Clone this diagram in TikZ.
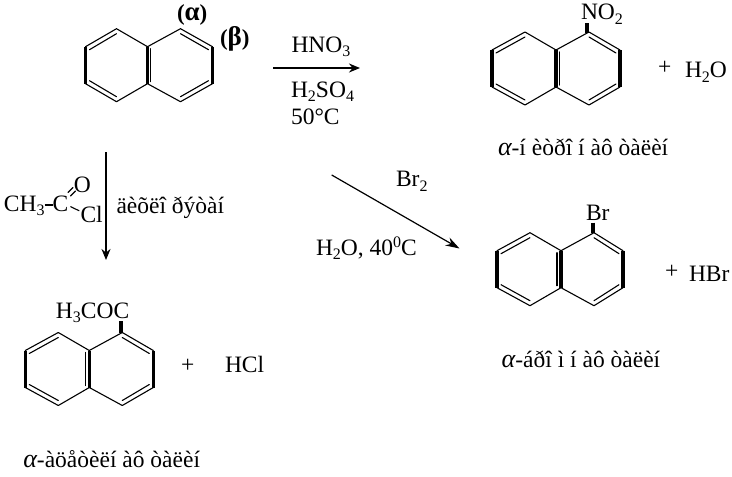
\documentclass[tikz,border=0pt]{standalone}
\usepackage{fontspec}
\setmainfont{Liberation Serif}
\usetikzlibrary{arrows.meta}
\newcommand\sbs[1]{\raisebox{-4.5pt}{\fontsize{16}{16}\selectfont #1}}
\newcommand\sps[1]{\raisebox{8pt}{\fontsize{16}{16}\selectfont #1}}
\newcommand\alf{{\fontsize{26}{26}\selectfont\itshape α}}
\newcommand\grk[1]{{\fontsize{27}{27}\selectfont #1}}
\tikzset{
  txt/.style={anchor=base west,inner sep=0pt,outer sep=0pt,font=\fontsize{23.5}{23.5}\selectfont},
  gr/.style={anchor=base west,inner sep=0pt,outer sep=0pt,font=\fontsize{23}{23}\selectfont\bfseries},
  thin bond/.style={line width=1.1pt,line cap=round,line join=round},
  bold bond/.style={line width=3.5pt},
  rarrow/.style={line width=2.3pt,-{Stealth[length=11pt,width=9pt]}},
  darrow/.style={line width=1.2pt,-{Stealth[length=14pt,width=9pt]}}
}
% #1 x, #2 y of top of the central bond, #3 offset of its thin partner, #4 left width, #5 right width
\newcommand\naph[5]{%
\begin{scope}[shift={(#1,#2)}]
 \draw[thin bond] (-#4,0) -- (-31,-18) -- (0,0) -- (33,-18) -- (#5,0);
 \draw[thin bond] (-#4,37) -- (-31,55) -- (0,37) -- (33,55) -- (#5,37);
 \draw[thin bond] (-#4+4,3) -- (-31,-13);
 \draw[thin bond] (-#4+4,34) -- (-31,50);
 \draw[thin bond] (33,-13) -- (#5-4,3);
 \draw[thin bond] (33,50) -- (#5-4,34);
 \draw[bold bond] (-#4,0) -- (-#4,37);
 \draw[bold bond] (#5,0) -- (#5,37);
 \draw[bold bond] (0,0) -- (0,37);
 \draw[thin bond] (#3,2) -- (#3,35);
\end{scope}}
\begin{document}
\begin{tikzpicture}[x=1pt,y=-1pt]
\useasboundingbox (0,0) rectangle (732,477);
% naphthalene
\naph{147.5}{46.7}{3}{62}{65}
\node[gr] (alpha) at (177,20) {(\grk{α})};
\node[gr] (beta) at (220,45) {(\grk{β})};
% nitration
\node[txt] (hno) at (291.5,52) {HNO\sbs{3}};
\node[txt] (hso) at (291,97) {H\sbs{2}SO\sbs{4}};
\node[txt] (temp) at (291,124) {50°C};
\coordinate (a1s) at (273,68);
\coordinate (a1e) at (360,68);
\draw[rarrow] (a1s) -- (a1e);
\naph{556}{50}{3.5}{64}{64}
\node[txt] (no2) at (581,19.5) {NO\sbs{2}};
\draw[bold bond] (587,23) -- (587,32.5);
\node[txt] (plus1) at (658,74) {+};
\node[txt] (water) at (685,77.5) {H\sbs{2}O};
\node[txt] (nname) at (498,155.7) {\alf-í èòðî í àô òàëèí};
% acylation
\node[txt] (ch3c) at (4,211) {CH\sbs{3}};
\node[txt] (carb) at (52.5,211) {C};
\node[txt] (oxy) at (74,192) {O};
\node[txt] (chl) at (80.5,222.7) {Cl};
\draw[line width=2.5pt] (ch3c.east |- 0,205) -- (carb.west |- 0,205);
\draw[thin bond] (68,192.5) -- (73,187.5);
\draw[thin bond] (70.5,196) -- (75.5,191);
\draw[thin bond] (70.7,206.7) -- (79,210.7);
\coordinate (a2s) at (106,152);
\coordinate (a2e) at (106,260);
\draw[rarrow] (a2s) -- (a2e);
\node[txt] (solv) at (116.5,213.3) {äèõëî ðýòàí};
\node[txt] (acyl) at (56,318) {H\sbs{3}COC};
\naph{89.3}{350.5}{-4}{64}{64}
\draw[bold bond] (121,321) -- (121,333);
\node[txt] (plus2) at (181,372) {+};
\node[txt] (hcl) at (225,372.7) {HCl};
\node[txt] (aname) at (23.3,467.7) {\alf-àöåòèëí àô òàëèí};
% bromination
\coordinate (a3s) at (331.7,175);
\coordinate (a3e) at (459.5,248.5);
\draw[darrow] (a3s) -- (a3e);
\node[txt] (brt) at (396,186.7) {Br\sbs{2}};
\node[txt] (cond) at (316,255) {H\sbs{2}O, 40\sps{0}C};
\node[txt] (br) at (586,220) {Br};
\draw[bold bond] (593,222.5) -- (593,233);
\naph{561}{250.7}{-4}{64}{62}
\node[txt] (plus3) at (665,278) {+};
\node[txt] (hbr) at (689,281) {HBr};
\node[txt] (bname) at (501.7,367.7) {\alf-áðî ì í àô òàëèí};
\end{tikzpicture}
\end{document}
